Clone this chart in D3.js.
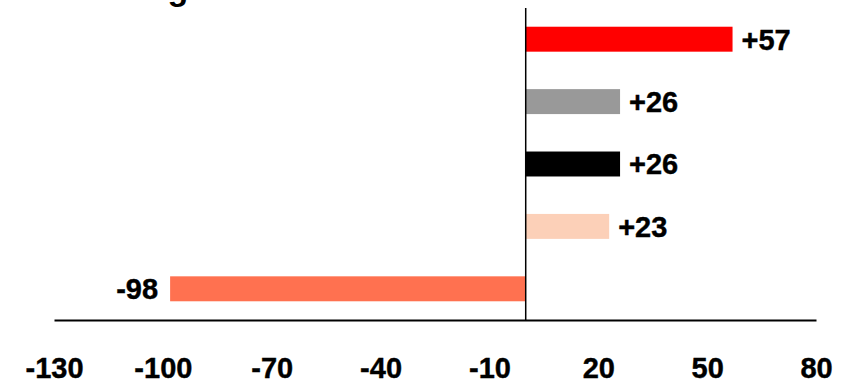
<!DOCTYPE html>
<html>
<head>
<meta charset="utf-8">
<script src="https://cdn.jsdelivr.net/npm/d3@7.9.0/dist/d3.min.js"></script>
<style>
  body { margin: 0; background: #fff; }
  svg { display: block; font-family: "Liberation Sans", Arial, sans-serif; }
</style>
</head>
<body>
<svg id="chart" width="844" height="384"></svg>
<script>
// data
const categories = ["a", "b", "c", "d", "e"];
const values = [57, 26, 26, 23, -98];
const barColors = ["#ff0000", "#999999", "#000000", "#fcd0b8", "#ff7150"];
const tickValues = [-130, -100, -70, -40, -10, 20, 50, 80];
const title = "Net change since 2000";

const svg = d3.select('#chart');

// x scale: -130..80 across the axis line
const x = d3.scaleLinear().domain([-130, 80]).range([54, 816]);
const y = d3.scaleBand().domain(categories).range([8, 320]).paddingInner(0.6).paddingOuter(0.3);

// title, mostly cut off at the top
svg.append('text')
    .attr('x', 24)
    .attr('y', 0)
    .attr('font-size', 34)
    .attr('font-weight', 'bold')
    .text(title);

// bars
svg.selectAll('rect.bar')
    .data(values)
    .join('rect')
    .attr('class', 'bar')
    .attr('x', d => x(Math.min(0, d)))
    .attr('y', (d, i) => y(categories[i]))
    .attr('width', d => Math.abs(x(d) - x(0)))
    .attr('height', y.bandwidth())
    .attr('fill', (d, i) => barColors[i]);

// value labels
svg.selectAll('text.val')
    .data(values)
    .join('text')
    .attr('class', 'val')
    .attr('x', d => d >= 0 ? x(d) + 9 : x(d) - 12)
    .attr('y', (d, i) => y(categories[i]) + y.bandwidth() / 2)
    .attr('dy', '0.36em')
    .attr('text-anchor', d => d >= 0 ? 'start' : 'end')
    .attr('font-size', 29)
    .attr('font-weight', 'bold')
    .attr('stroke', '#000')
    .attr('stroke-width', 0.4)
    .text(d => (d > 0 ? '+' : '') + d);

// zero line
svg.append('line')
    .attr('x1', x(0)).attr('x2', x(0))
    .attr('y1', 8).attr('y2', 320)
    .attr('stroke', '#000').attr('stroke-width', 1.5);

// x axis
const axis = svg.append('g')
    .attr('transform', 'translate(0,320)')
    .call(d3.axisBottom(x).tickValues(tickValues).tickSize(0).tickPadding(37)
        .tickFormat(d => String(d)));
axis.select('.domain').attr('stroke', '#000').attr('stroke-width', 2);
axis.selectAll('text')
    .attr('font-family', '"Liberation Sans", Arial, sans-serif')
    .attr('font-size', 29)
    .attr('font-weight', 'bold')
    .attr('stroke', '#000')
    .attr('stroke-width', 0.4)
    .attr('fill', '#000');
</script>
</body>
</html>
